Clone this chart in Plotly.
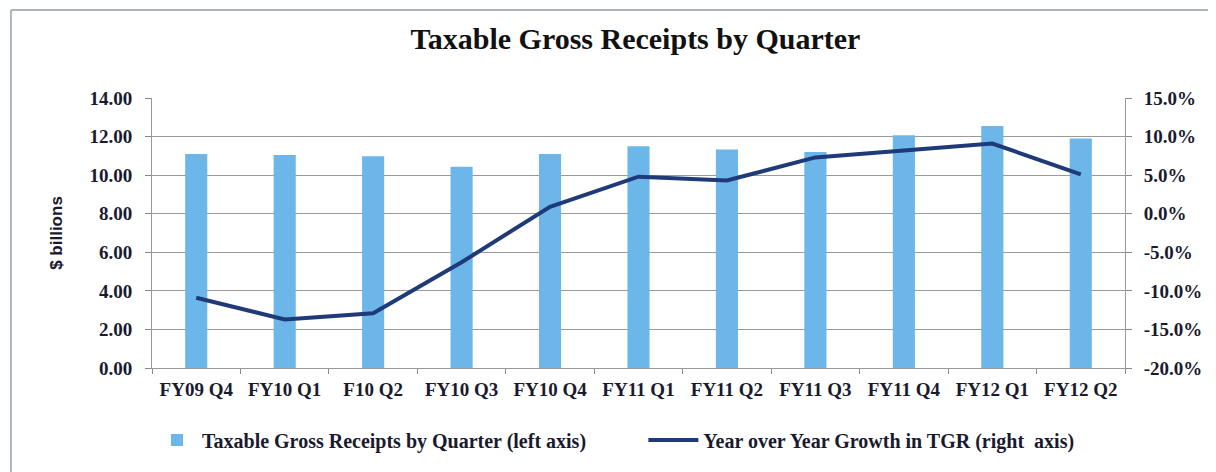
import plotly.graph_objects as go

quarters = ["FY09 Q4", "FY10 Q1", "F10 Q2", "FY10 Q3", "FY10 Q4", "FY11 Q1",
            "FY11 Q2", "FY11 Q3", "FY11 Q4", "FY12 Q1", "FY12 Q2"]
tgr = [11.1, 11.05, 10.98, 10.43, 11.1, 11.5, 11.33, 11.2, 12.07, 12.55, 11.9]
growth = [-10.9, -13.7, -12.9, -6.3, 0.9, 4.8, 4.3, 7.3, 8.2, 9.1, 5.1]

pct_vals = [-20, -15, -10, -5, 0, 5, 10, 15]
pct_labels = ["-20.0%", "-15.0%", "-10.0%", "-5.0%", "0.0%", "5.0%", "10.0%", "15.0%"]

serif = "Liberation Serif"
txt = "#1a1a2e"
tick_font = dict(family=serif, size=19, color=txt, weight="bold")
leg_font = dict(family=serif, size=20, color=txt, weight="bold")

fig = go.Figure()
fig.add_trace(go.Bar(x=quarters, y=tgr, name="Taxable Gross Receipts by Quarter (left axis)",
                     marker_color="#6DB6E9", marker_line_width=0, legend="legend"))
fig.add_trace(go.Scatter(x=quarters, y=growth, yaxis="y2", mode="lines",
                         name="Year over Year Growth in TGR (right  axis)",
                         line=dict(color="#1F3A78", width=4), legend="legend2"))

fig.update_layout(
    width=1216, height=472,
    margin=dict(l=144, r=99, t=90, b=112, autoexpand=False),
    paper_bgcolor="white", plot_bgcolor="white",
    font=dict(family=serif, size=16, color=txt),
    title=dict(text="<b>Taxable Gross Receipts by Quarter</b>", x=0.516, xanchor="center",
               y=0.936, yanchor="middle", font=dict(family=serif, size=30, color="#111")),
    bargap=0.75,
    showlegend=True,
    legend=dict(orientation="h", x=0.0, xanchor="left", y=-0.267, yanchor="middle",
                bgcolor="rgba(0,0,0,0)", font=leg_font, itemwidth=40),
    legend2=dict(orientation="h", x=0.505, xanchor="left", y=-0.267, yanchor="middle",
                 bgcolor="rgba(0,0,0,0)", font=leg_font, itemwidth=50),
    xaxis=dict(tickson="boundaries", ticks="outside", ticklen=5, tickcolor="#888",
               showline=True, linecolor="#999", linewidth=1, showgrid=False,
               tickfont=tick_font, ticklabelstandoff=4),
    yaxis=dict(range=[0, 14], dtick=2, tickformat=".2f", showgrid=True, gridcolor="#999",
               gridwidth=1, showline=True, linecolor="#999", ticks="outside", ticklen=6,
               tickcolor="#888", zeroline=False, tickfont=tick_font, ticklabelstandoff=9,
               title=dict(text="<b>$ billions</b>", standoff=22,
                          font=dict(family="Liberation Sans", size=17, color=txt))),
    yaxis2=dict(range=[-20, 15], tickvals=pct_vals, ticktext=pct_labels, overlaying="y",
                side="right", showgrid=False, showline=True, linecolor="#999",
                ticks="outside", ticklen=6, tickcolor="#888", zeroline=False,
                tickfont=tick_font, ticklabelstandoff=8),
    shapes=[
        dict(type="line", xref="paper", yref="paper", x0=-0.145, x1=-0.145,
             y0=-0.5, y1=1.326, line=dict(color="#aab4bb", width=2)),
        dict(type="line", xref="paper", yref="paper", x0=-0.145, x1=1.2,
             y0=1.326, y1=1.326, line=dict(color="#aab4bb", width=2)),
    ],
)

fig.write_html("out.html")
